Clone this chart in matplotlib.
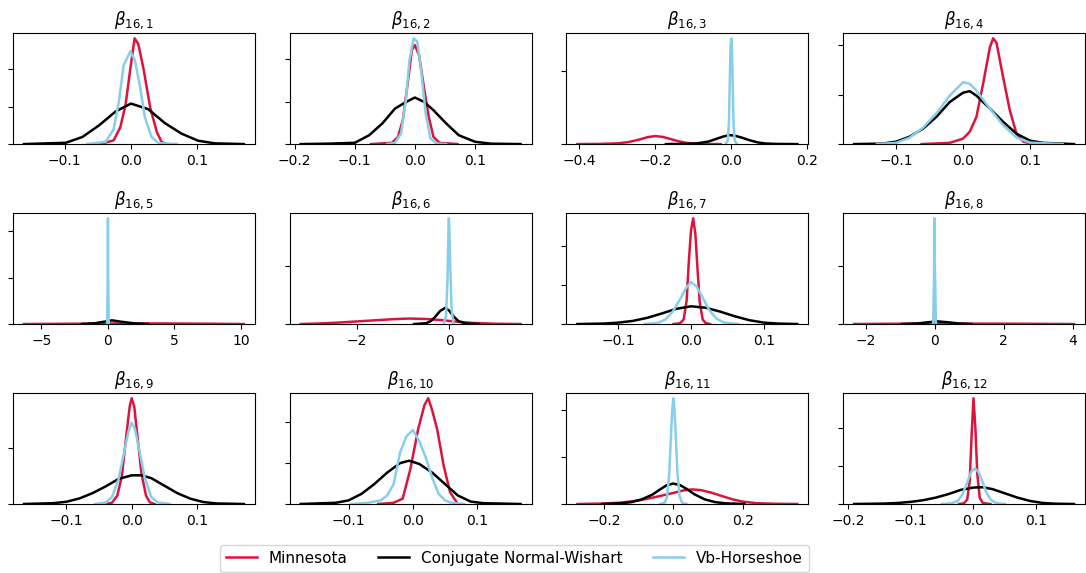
import numpy as np
import matplotlib
matplotlib.use("Agg")
import matplotlib.pyplot as plt

# densidades posteriores de beta_{16,j} (x, altura)
titulos = [r"$\beta_{16,%d}$" % j for j in range(1, 13)]
paso_y = [10, 10, 100, 10, 50, 20, 25, 50, 20, 10, 20, 25]

# Minnesota
mn_x = [
    [-0.046, -0.026, -0.016, -0.008, -0.001, 0.0055, 0.011, 0.019, 0.029, 0.039, 0.046, 0.054],
    [-0.073, -0.038, -0.028, -0.020, -0.012, -0.005, 0.0, 0.007, 0.015, 0.023, 0.031, 0.041, 0.071],
    [-0.405, -0.35, -0.30, -0.27, -0.24, -0.22, -0.20, -0.18, -0.16, -0.14, -0.12, -0.10, -0.07, -0.028],
    [-0.062, -0.02, 0.0, 0.01, 0.02, 0.03, 0.04, 0.045, 0.05, 0.06, 0.07, 0.08, 0.09, 0.104],
    [-6.31, -4, -2, 0, 2, 4, 6, 8, 10.22],
    [-3.21, -2.8, -2.4, -2.0, -1.6, -1.2, -0.87, -0.5, -0.2, 0.1, 0.5, 1.0, 1.54],
    [-0.024, -0.015, -0.01, -0.006, -0.003, 0.0, 0.003, 0.006, 0.009, 0.012, 0.016, 0.02, 0.026],
    [-2.33, -1.5, -0.5, 0.5, 1.5, 2.5, 3.3, 4.04],
    [-0.038, -0.03, -0.022, -0.015, -0.008, -0.003, 0.0, 0.004, 0.009, 0.015, 0.022, 0.028, 0.035],
    [-0.054, -0.03, -0.016, -0.004, 0.008, 0.018, 0.024, 0.030, 0.038, 0.048, 0.058, 0.068],
    [-0.276, -0.2, -0.15, -0.1, -0.05, 0.0, 0.03, 0.055, 0.08, 0.11, 0.14, 0.17, 0.2, 0.24, 0.29, 0.357],
    [-0.023, -0.015, -0.01, -0.006, -0.003, 0.0, 0.003, 0.006, 0.01, 0.015, 0.027],
]
mn_y = [
    [0, 1, 4.5, 10.6, 20, 28.2, 26.7, 20, 9.7, 3.2, 0.6, 0],
    [0, 0.3, 1.7, 5.7, 14.3, 22.2, 23.4, 21, 13.5, 6.5, 1.7, 0.3, 0],
    [0, 0.2, 1.0, 2.8, 6.5, 9.5, 11, 9.8, 7, 4, 1.8, 0.7, 0.15, 0],
    [0, 0.25, 1.1, 2.5, 5.5, 12.2, 19.5, 21.4, 20.5, 13.5, 6.8, 2.1, 0.5, 0],
    [0, 0.2, 0.4, 0.6, 0.7, 0.65, 0.5, 0.3, 0],
    [0, 0.2, 0.5, 0.9, 1.3, 1.7, 1.9, 1.75, 1.4, 0.9, 0.4, 0.1, 0],
    [0, 0.5, 3, 15, 40, 60, 68, 58, 35, 14, 3, 0.6, 0],
    [0, 0.2, 0.35, 0.4, 0.35, 0.25, 0.12, 0],
    [0, 0.5, 3, 10, 25, 35, 38, 35, 24, 11, 3, 0.6, 0],
    [0, 0.3, 1.3, 8.5, 18.2, 24.2, 25.9, 23, 18.2, 9.4, 2.9, 0.5],
    [0, 0.2, 0.6, 1.5, 3.0, 4.7, 5.8, 6.2, 5.9, 4.8, 3.4, 2.0, 1.0, 0.35, 0.1, 0],
    [0, 0.5, 3, 15, 45, 69.5, 50, 20, 4, 0.6, 0],
]

# Conjugate Normal-Wishart
cnw_x = [
    [-0.161, -0.098, -0.073, -0.048, -0.023, 0.0, 0.026, 0.051, 0.076, 0.101, 0.126, 0.170],
    [-0.190, -0.145, -0.1, -0.076, -0.054, -0.033, -0.014, 0.0, 0.015, 0.031, 0.052, 0.073, 0.1, 0.127, 0.176],
    [-0.172, -0.12, -0.09, -0.06, -0.04, -0.02, -0.005, 0.01, 0.03, 0.05, 0.07, 0.09, 0.12, 0.174],
    [-0.163, -0.12, -0.10, -0.08, -0.06, -0.04, -0.02, 0.0, 0.01, 0.02, 0.04, 0.06, 0.08, 0.10, 0.12, 0.166],
    [-1.95, -1, -0.3, 0.3, 1.0, 2, 3],
    [-0.76, -0.5, -0.4, -0.3, -0.2, -0.09, 0.0, 0.1, 0.2, 0.35, 0.63],
    [-0.156, -0.12, -0.1, -0.08, -0.06, -0.04, -0.02, 0.0, 0.02, 0.04, 0.06, 0.08, 0.1, 0.12, 0.146],
    [-0.94, -0.5, -0.2, 0.07, 0.4, 0.7, 1.07],
    [-0.165, -0.12, -0.1, -0.08, -0.06, -0.04, -0.02, 0.0, 0.015, 0.03, 0.05, 0.07, 0.09, 0.11, 0.13, 0.172],
    [-0.175, -0.12, -0.1, -0.08, -0.06, -0.04, -0.02, -0.006, 0.01, 0.03, 0.05, 0.07, 0.09, 0.11, 0.168],
    [-0.205, -0.15, -0.12, -0.09, -0.06, -0.04, -0.02, 0.0, 0.02, 0.04, 0.06, 0.09, 0.12, 0.15, 0.205],
    [-0.19, -0.14, -0.12, -0.1, -0.08, -0.06, -0.04, -0.02, 0.0, 0.015, 0.03, 0.05, 0.07, 0.09, 0.11, 0.13, 0.16],
]
cnw_y = [
    [0, 0.35, 1.9, 5.0, 8.7, 10.8, 9.3, 5.6, 2.8, 0.9, 0.2, 0],
    [0, 0.1, 0.3, 2.1, 4.9, 8.4, 10, 11.0, 10, 8.0, 4.9, 2.1, 0.55, 0.1, 0],
    [0, 0.3, 1.0, 3.5, 7.0, 10.5, 12.3, 11.5, 8.5, 5, 2.3, 0.8, 0.2, 0],
    [0, 0.1, 0.5, 1.5, 3.1, 5.5, 8.5, 10.4, 10.7, 9.8, 7.2, 4.5, 2.1, 0.7, 0.25, 0],
    [0, 0.8, 2.5, 4, 2.5, 0.7, 0],
    [0, 0.3, 1.0, 2.6, 4.5, 5.6, 4.6, 2.5, 1.0, 0.2, 0],
    [0, 0.3, 0.9, 2.0, 4.0, 6.8, 9.8, 11.4, 10.5, 8, 5, 2.5, 0.9, 0.3, 0],
    [0, 0.5, 1.5, 2.3, 1.5, 0.5, 0],
    [0, 0.3, 0.8, 2.0, 3.9, 6.3, 9.0, 10.3, 10.3, 9.3, 6.6, 3.9, 1.9, 0.7, 0.2, 0],
    [0, 0.3, 0.9, 2.5, 4.9, 7.7, 10, 10.6, 9.8, 7.7, 4.9, 2.1, 0.6, 0.2, 0],
    [0, 0.3, 0.8, 2.0, 4.0, 6.0, 7.9, 8.7, 8.0, 6.3, 4.2, 2.0, 0.8, 0.3, 0],
    [0, 0.3, 0.7, 1.4, 2.5, 4.2, 6.5, 9.3, 10.8, 11, 9.8, 7.0, 4.2, 2.0, 0.7, 0.2, 0],
]

# Vb-Horseshoe
hs_x = [
    [-0.066, -0.038, -0.026, -0.018, -0.011, -0.001, 0.006, 0.014, 0.021, 0.031, 0.041, 0.069],
    [-0.046, -0.033, -0.023, -0.015, -0.009, -0.002, 0.004, 0.011, 0.018, 0.026, 0.036, 0.052],
    [-0.015, -0.009, -0.006, -0.004, -0.002, 0.0, 0.002, 0.004, 0.006, 0.009, 0.015],
    [-0.129, -0.10, -0.08, -0.06, -0.04, -0.02, 0.0, 0.01, 0.02, 0.04, 0.06, 0.08, 0.10, 0.149],
    [-0.06, -0.015, 0.0, 0.015, 0.06],
    [-0.12, -0.07, -0.04, -0.02, -0.01, 0.0, 0.02, 0.05, 0.09],
    [-0.063, -0.045, -0.035, -0.025, -0.015, -0.007, 0.0, 0.008, 0.016, 0.025, 0.035, 0.045, 0.065],
    [-0.04, -0.01, 0.0, 0.01, 0.04],
    [-0.056, -0.04, -0.03, -0.02, -0.012, -0.005, 0.0, 0.005, 0.012, 0.02, 0.03, 0.04, 0.058],
    [-0.096, -0.07, -0.05, -0.04, -0.03, -0.02, -0.01, 0.0, 0.01, 0.02, 0.03, 0.04, 0.05, 0.06, 0.08],
    [-0.038, -0.025, -0.018, -0.012, -0.007, -0.003, 0.0, 0.003, 0.007, 0.012, 0.018, 0.025, 0.038],
    [-0.05, -0.035, -0.025, -0.018, -0.01, -0.004, 0.002, 0.008, 0.014, 0.02, 0.027, 0.035, 0.05],
]
hs_y = [
    [0, 0.6, 4, 11.5, 21, 24.7, 22.3, 15, 7.1, 1.9, 0.3, 0],
    [0, 0.3, 2.5, 10.4, 19.8, 25, 24.2, 16.7, 7.2, 1.3, 0.15, 0],
    [0, 5, 30, 80, 130, 145, 130, 80, 30, 5, 0],
    [0, 0.25, 1.3, 3.3, 6.2, 9.8, 12.5, 12.2, 10.8, 7.2, 3.8, 1.3, 0.3, 0],
    [0, 50, 114, 50, 0],
    [0, 3, 15, 31, 36.6, 33, 20, 5, 0],
    [0, 0.8, 3, 8, 16, 23, 27, 24, 17, 9, 3.5, 1, 0],
    [0, 50, 91, 50, 0],
    [0, 0.5, 2.5, 9, 18, 26, 29.2, 27, 19, 9.5, 2.5, 0.6, 0],
    [0, 0.3, 0.9, 2.1, 4.9, 12.6, 16.6, 18.1, 15.4, 11.4, 6.5, 2.5, 0.9, 0.3, 0],
    [0, 0.5, 3, 12, 28, 40, 45, 41, 30, 13, 3.5, 0.6, 0],
    [0, 0.5, 2, 6, 14, 21, 23.4, 21, 15, 8, 3, 0.7, 0],
]

colores = ["crimson", "black", "skyblue"]
nombres = ["Minnesota", "Conjugate Normal-Wishart", "Vb-Horseshoe"]

fig, axes = plt.subplots(3, 4, figsize=(10.86, 5.73), dpi=100)
plt.subplots_adjust(left=13/1086, right=1085/1086, top=1-33/573, bottom=1-504/573,
                    wspace=0.144, hspace=0.62)

for i, ax in enumerate(axes.flat):
    series = [(mn_x[i], mn_y[i]), (cnw_x[i], cnw_y[i]), (hs_x[i], hs_y[i])]
    for (xs, ys), c, n in zip(series, colores, nombres):
        ax.plot(xs, ys, color=c, lw=1.8, label=n)
    ax.set_ylim(bottom=0)
    top = ax.get_ylim()[1]
    ax.set_yticks(np.arange(0, top, paso_y[i]))
    ax.set_yticklabels([])
    ax.set_title(titulos[i])

handles, labels = axes[0, 0].get_legend_handles_labels()
fig.legend(handles, labels, loc="upper center", ncol=3,
           bbox_to_anchor=(514.5/1086, 1-537/573), fontsize=11)

plt.savefig("out.png", dpi=100)
